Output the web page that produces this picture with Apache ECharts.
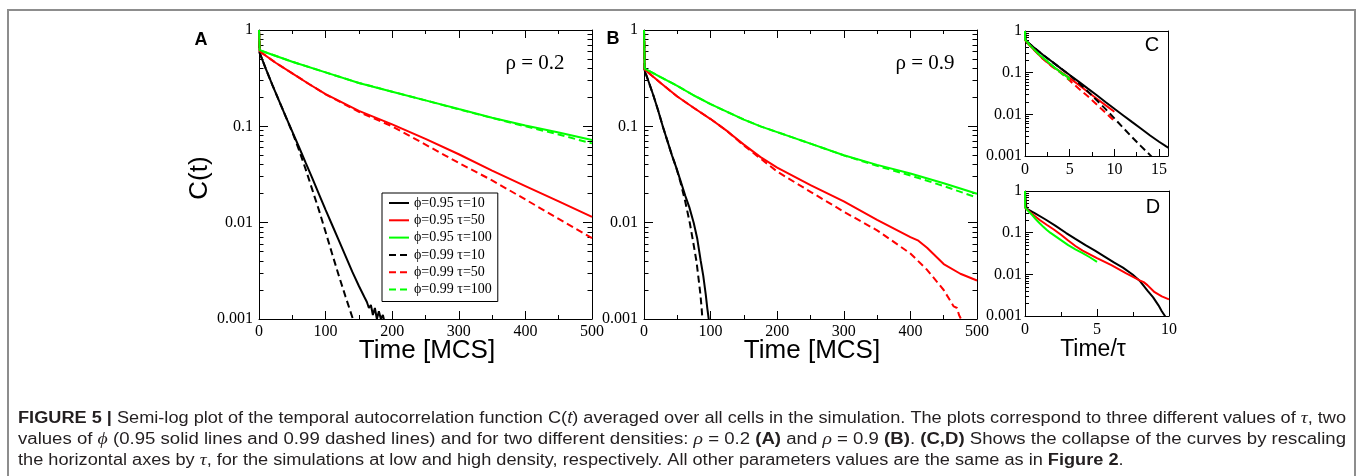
<!DOCTYPE html>
<html><head><meta charset="utf-8">
<script src="https://cdn.jsdelivr.net/npm/echarts@6/dist/echarts.min.js"></script>
<style>html,body{margin:0;padding:0;background:#fff}.layer{position:absolute;left:0;top:0;width:1358px;height:476px}</style>
</head><body>
<div class="layer" id="axA"></div><div class="layer" id="axB"></div><div class="layer" id="axC"></div><div class="layer" id="axD"></div>
<div class="layer" id="lines"></div><div class="layer" id="leg"></div><div class="layer" id="txt"></div>
<script>
// ---------------- DATA ----------------
const seriesNames = ['ϕ=0.95 τ=10','ϕ=0.95 τ=50','ϕ=0.95 τ=100','ϕ=0.99 τ=10','ϕ=0.99 τ=50','ϕ=0.99 τ=100'];
const tauValues = [10, 50, 100, 10, 50, 100];
const lineColors = ['#000000','#ff0000','#00ff00','#000000','#ff0000','#00ff00'];
const dashedFlags = [false, false, false, true, true, true];

// Panel A (rho = 0.2): [time (MCS), C(t)]
const A_095_10 = [[0,1],[1,0.58],[10,0.40],[20,0.27],[30,0.185],[40,0.127],[50,0.088],[60,0.061],[70,0.042],[80,0.029],[90,0.0198],[100,0.0136],[110,0.0094],[120,0.0065],[130,0.0045],[140,0.0031],[150,0.0022],[158,0.0017],[162,0.0015],[165,0.0013],[168,0.0014],[171,0.0011],[174,0.0013],[177,0.0010],[180,0.0012],[183,0.0010],[186,0.0011],[189,0.0009]];
const A_095_50 = [[0,1],[1,0.60],[25,0.457],[50,0.355],[75,0.275],[100,0.216],[150,0.1445],[200,0.1047],[250,0.0741],[300,0.0513],[350,0.0347],[400,0.0240],[450,0.0166],[500,0.0115]];
const A_095_100 = [[0,1],[1,0.617],[50,0.468],[100,0.363],[150,0.282],[200,0.229],[250,0.186],[300,0.151],[350,0.123],[400,0.102],[450,0.0861],[500,0.0721]];
const A_099_10 = [[0,1],[1,0.58],[10,0.40],[20,0.27],[30,0.185],[40,0.127],[50,0.087],[60,0.057],[70,0.036],[80,0.022],[90,0.0135],[100,0.0080],[110,0.0047],[120,0.0028],[130,0.0017],[140,0.00105],[145,0.00082]];
const A_099_50 = [[0,1],[1,0.60],[25,0.457],[50,0.355],[75,0.275],[100,0.215],[150,0.1413],[200,0.100],[250,0.0646],[300,0.0417],[350,0.0275],[400,0.0174],[450,0.01096],[500,0.00692]];
const A_099_100 = [[0,1],[1,0.617],[50,0.468],[100,0.363],[150,0.282],[200,0.229],[250,0.186],[300,0.150],[350,0.122],[400,0.100],[450,0.0822],[500,0.0665]];

// Panel B (rho = 0.9): [time (MCS), C(t)]
const B_095_10 = [[0,1],[1,0.38],[7,0.29],[14,0.21],[21,0.148],[28.6,0.098],[35,0.071],[42,0.050],[48.6,0.037],[55,0.027],[62,0.019],[68,0.0145],[74.7,0.0099],[80,0.0068],[85.2,0.0040],[89,0.0028],[92.7,0.0018],[95,0.0013],[97.2,0.0010],[99,0.0007],[100,0.00055]];
const B_095_50 = [[0,1],[1,0.389],[25,0.282],[50,0.204],[75,0.155],[100,0.119],[125,0.0891],[150,0.0646],[175,0.0479],[200,0.0372],[250,0.0245],[300,0.0166],[350,0.0107],[400,0.00708],[412,0.0065],[425,0.0055],[450,0.00372],[475,0.00295],[500,0.00251]];
const B_095_100 = [[0,1],[1,0.398],[25,0.324],[50,0.263],[75,0.209],[100,0.170],[125,0.141],[150,0.1175],[175,0.100],[200,0.0871],[250,0.0661],[300,0.0501],[350,0.0398],[400,0.0324],[450,0.0257],[500,0.01995]];
const B_099_10 = [[0,1],[1,0.38],[7,0.29],[14,0.21],[21,0.148],[28.6,0.098],[35,0.071],[42,0.050],[48.6,0.037],[55,0.026],[62,0.0165],[68.7,0.010],[74,0.0062],[78.7,0.0040],[82,0.0026],[84.7,0.0018],[86.5,0.0013],[87.7,0.0010],[88.5,0.0008]];
const B_099_50 = [[0,1],[1,0.389],[25,0.282],[50,0.204],[75,0.155],[100,0.119],[125,0.0891],[150,0.0631],[200,0.0339],[250,0.0209],[300,0.0130],[350,0.00832],[400,0.00479],[425,0.00324],[450,0.0020],[465,0.00135],[470,0.0013],[473,0.0011],[476,0.0010],[478,0.0009]];
const B_099_100 = [[0,1],[1,0.398],[25,0.324],[50,0.263],[75,0.209],[100,0.170],[125,0.141],[150,0.1175],[175,0.100],[200,0.0871],[250,0.0661],[300,0.0500],[350,0.0389],[400,0.0309],[450,0.0240],[500,0.0182]];

const panelA = [A_095_10, A_095_50, A_095_100, A_099_10, A_099_50, A_099_100];
const panelB = [B_095_10, B_095_50, B_095_100, B_099_10, B_099_50, B_099_100];

// Tick values and labels
const timeTickValues = [0, 100, 200, 300, 400, 500];
const timeTickLabels = ['0', '100', '200', '300', '400', '500'];
const scaledTickValues = [0, 5, 10, 15];
const scaledTickLabels = ['0', '5', '10', '15'];
const corrTickValues = [0.001, 0.01, 0.1, 1];
const corrTickLabels = ['0.001', '0.01', '0.1', '1'];

// ---------------- LAYOUT ----------------
const SERIF = '"Liberation Serif", "DejaVu Serif", serif';
const SANS = '"Liberation Sans", Arial, sans-serif';
const gridBoxes = [
  {left: 259, top: 30, width: 333, height: 289},
  {left: 644, top: 30, width: 333, height: 289},
  {left: 1025, top: 31, width: 143, height: 125},
  {left: 1025, top: 191, width: 144, height: 125}
];
// axis ranges per panel
const panelRanges = [
  {xmin: 0, xmax: 500, xint: 100, ymin: 0.001, ymax: 1, full: true, xv: timeTickValues, xl: timeTickLabels},
  {xmin: 0, xmax: 500, xint: 100, ymin: 0.001, ymax: 1, full: true, xv: timeTickValues, xl: timeTickLabels},
  {xmin: 0, xmax: 16, xint: 5, ymin: 0.001, ymax: 1, full: false, xv: scaledTickValues, xl: scaledTickLabels},
  {xmin: 0, xmax: 10, xint: 5, ymin: 0.001, ymax: 1, full: false, xv: scaledTickValues, xl: scaledTickLabels}
];

function lookupLabel(values, labels) {
  return function (v) {
    for (let i = 0; i < values.length; i++) {
      if (Math.abs(values[i] - v) <= Math.abs(values[i]) * 1e-6 + 1e-9) return labels[i];
    }
    return '';
  };
}
function tickAxis(o, useFont) {
  const ax = {
    type: o.log ? 'log' : 'value', gridIndex: 0, min: o.min, max: o.max, position: o.pos,
    splitLine: {show: false},
    axisLine: {show: true, onZero: false, lineStyle: {color: '#000', width: 1}},
    axisTick: {show: !!o.len, inside: true, length: o.len || 1, lineStyle: {color: '#000', width: 1}},
    minorTick: {show: !!o.len, splitNumber: o.split, length: o.mlen || 1, lineStyle: {color: '#000', width: 1}},
    axisLabel: {show: false}
  };
  if (o.log) ax.logBase = 10;
  if (o.interval) ax.interval = o.interval;
  if (o.labels) {
    ax.axisLabel = {show: true, formatter: lookupLabel(o.values, o.labels), color: '#000', fontSize: 16};
    if (useFont) { ax.axisLabel.fontFamily = SERIF; ax.axisLabel.margin = o.margin; }
  }
  return ax;
}
function axesOption(p, useFont) {
  const r = panelRanges[p], big = r.full;
  const xAxis = [
    tickAxis({min: r.xmin, max: r.xmax, interval: r.xint, pos: 'bottom', len: big ? 8 : 7, mlen: 4, split: 2, values: r.xv, labels: r.xl, margin: big ? 5 : 6}, useFont),
    tickAxis({min: r.xmin, max: r.xmax, interval: r.xint, pos: 'top', len: big ? 8 : 0, mlen: 4, split: 2}, useFont)
  ];
  const yAxis = [
    tickAxis({log: true, min: r.ymin, max: r.ymax, pos: 'left', len: big ? 9 : 8, mlen: big ? 4.5 : 4, split: 9, values: corrTickValues, labels: corrTickLabels, margin: big ? 6 : 3}, useFont),
    tickAxis({log: true, min: r.ymin, max: r.ymax, pos: 'right', len: big ? 9 : 0, mlen: 4.5, split: 9}, useFont)
  ];
  return {animation: false, backgroundColor: 'transparent',
    grid: [Object.assign({outerBoundsMode: 'none', containLabel: false}, gridBoxes[p])],
    xAxis: xAxis, yAxis: yAxis, series: []};
}
// probe positions of one bottom major tick per panel (to verify the ticks were painted)
const probes = [[392, 312], [777, 312], [1070, 150], [1097, 310]];
function ticksPainted(chart, p) {
  try {
    chart.getZr().refreshImmediately();
    const cv = chart.getDom().querySelector('canvas');
    const ctx = cv.getContext('2d');
    const k = cv.width / 1358;
    let dark = 0;
    for (let dx = -2; dx <= 2; dx++) for (let dy = 0; dy < 5; dy++) {
      const d = ctx.getImageData(Math.round((probes[p][0] + dx) * k), Math.round((probes[p][1] + dy) * k), 1, 1).data;
      if (d[3] > 80 && d[0] < 160) dark++;
    }
    return dark >= 2;
  } catch (e) { return true; }
}
['axA', 'axB', 'axC', 'axD'].forEach((id, p) => {
  const ch = echarts.init(document.getElementById(id));
  ch.setOption(axesOption(p, true));
  if (!ticksPainted(ch, p)) ch.setOption(axesOption(p, false), true);
});

// ---------------- SERIES LAYER ----------------
const hiddenX = [], hiddenY = [];
gridBoxes.forEach((g, p) => {
  const r = panelRanges[p];
  hiddenX.push({type: 'value', gridIndex: p, min: r.xmin, max: r.xmax, show: false});
  hiddenY.push({type: 'log', logBase: 10, gridIndex: p, min: r.ymin, max: r.ymax, show: false});
});
const series = [];
function addSeries(k, data, p) {
  series.push({
    type: 'line', name: seriesNames[k], data: data, xAxisIndex: p, yAxisIndex: p,
    symbol: 'none', showSymbol: false, smooth: false, clip: true,
    lineStyle: {color: lineColors[k], width: 2, type: dashedFlags[k] ? [7, 4] : 'solid'},
    itemStyle: {color: lineColors[k]}, emphasis: {disabled: true}, animation: false
  });
}
panelA.forEach((d, k) => addSeries(k, d, 0));
panelB.forEach((d, k) => addSeries(k, d, 1));
// Panel C: panel A curves with time rescaled by tau
panelA.forEach((d, k) => addSeries(k, d.map(q => [q[0] / tauValues[k], q[1]]), 2));
// Panel D: panel B solid-line curves (phi = 0.95) with time rescaled by tau
[0, 1, 2].forEach(k => addSeries(k, panelB[k].map(q => [q[0] / tauValues[k], q[1]]), 3));
echarts.init(document.getElementById('lines')).setOption({
  animation: false, backgroundColor: 'transparent',
  grid: gridBoxes.map(g => Object.assign({outerBoundsMode: 'none', containLabel: false}, g)),
  xAxis: hiddenX, yAxis: hiddenY, series: series
});

// ---------------- LEGEND LAYER ----------------
echarts.init(document.getElementById('leg')).setOption({
  animation: false, backgroundColor: 'transparent',
  grid: [{left: 0, top: 0, width: 1, height: 1}],
  xAxis: [{type: 'value', show: false}], yAxis: [{type: 'value', show: false}],
  series: seriesNames.map((n, k) => ({type: 'line', name: n, data: [], symbol: 'none',
    lineStyle: {color: lineColors[k], width: 2, type: dashedFlags[k] ? [7, 4] : 'solid'}, itemStyle: {color: lineColors[k]}})),
  legend: {
    data: seriesNames, orient: 'vertical', left: 382, top: 193,
    padding: [3, 6, 5, 6], itemGap: 3.3, itemWidth: 20, itemHeight: 14,
    borderColor: '#000', borderWidth: 1, backgroundColor: '#fff', selectedMode: false,
    itemStyle: {opacity: 0},
    textStyle: {fontFamily: SERIF, fontSize: 14, color: '#000'}
  }
});

// ---------------- TEXT LAYER ----------------
const captionLines = [
  [['b','FIGURE 5 |'],['n',' Semi-log plot of the temporal autocorrelation function C('],['i','t'],['n',') averaged over all cells in the simulation. The plots correspond to three different values of '],['g','τ'],['n',', two']],
  [['n','values of '],['g','ϕ'],['n',' (0.95 solid lines and 0.99 dashed lines) and for two different densities: '],['g','ρ'],['n',' = 0.2 '],['b','(A)'],['n',' and '],['g','ρ'],['n',' = 0.9 '],['b','(B)'],['n','. '],['b','(C,D)'],['n',' Shows the collapse of the curves by rescaling']],
  [['n','the horizontal axes by '],['g','τ'],['n',', for the simulations at low and high density, respectively. All other parameters values are the same as in '],['b','Figure 2'],['n','.']]
];
const CAP_FS = 16;
const capStyles = {
  n: {fontFamily: SANS, fontSize: CAP_FS, fontWeight: 'normal', fontStyle: 'normal', fill: '#231f20'},
  b: {fontFamily: SANS, fontSize: CAP_FS, fontWeight: 'bold', fontStyle: 'normal', fill: '#231f20'},
  i: {fontFamily: SANS, fontSize: CAP_FS, fontWeight: 'normal', fontStyle: 'italic', fill: '#231f20'},
  g: {fontFamily: SERIF, fontSize: CAP_FS + 1, fontWeight: 'normal', fontStyle: 'italic', fill: '#231f20'}
};
const mctx = document.createElement('canvas').getContext('2d');
function measureLine(line) {
  let w = 0;
  line.forEach(([s, t]) => {
    const st = capStyles[s];
    mctx.font = st.fontStyle + ' ' + st.fontWeight + ' ' + st.fontSize + 'px ' + st.fontFamily;
    w += mctx.measureText(t).width;
  });
  return w;
}
const capTarget = 1328;
const s1 = capTarget / measureLine(captionLines[0]);
const s2 = capTarget / measureLine(captionLines[1]);
const capScales = [s1, s2, s1];
const capY = [419, 440, 461];
const captionGraphics = captionLines.map((line, i) => ({
  type: 'text', x: 18, y: capY[i], scaleX: capScales[i], silent: true,
  style: {text: line.map(([s, t]) => '{' + s + '|' + t + '}').join(''), rich: capStyles, align: 'left', verticalAlign: 'middle'}
}));
function label(text, x, y, font, extra) {
  return Object.assign({type: 'text', x: x, y: y, silent: true,
    style: {text: text, font: font, fill: '#000', align: 'center', verticalAlign: 'middle'}}, extra || {});
}
echarts.init(document.getElementById('txt')).setOption({
  animation: false, backgroundColor: 'transparent',
  graphic: [
    {type: 'rect', silent: true, shape: {x: 8, y: 10, width: 1347, height: 520}, style: {fill: 'none', stroke: '#8d8d8d', lineWidth: 2}},
    label('A', 201, 40, 'bold 18px ' + SANS),
    label('B', 613, 39, 'bold 18px ' + SANS),
    label('ρ = 0.2', 535, 63, '21px ' + SERIF),
    label('ρ = 0.9', 925, 63, '21px ' + SERIF),
    label('C', 1152, 45, '20px ' + SANS),
    label('D', 1153, 207, '20px ' + SANS),
    label('C(t)', 200, 178, '26px ' + SANS, {rotation: Math.PI / 2}),
    label('Time [MCS]', 427, 351, '26px ' + SANS),
    label('Time [MCS]', 812, 351, '26px ' + SANS),
    label('Time/τ', 1093, 350, '23px ' + SANS)
  ].concat(captionGraphics)
});
</script>
</body></html>
